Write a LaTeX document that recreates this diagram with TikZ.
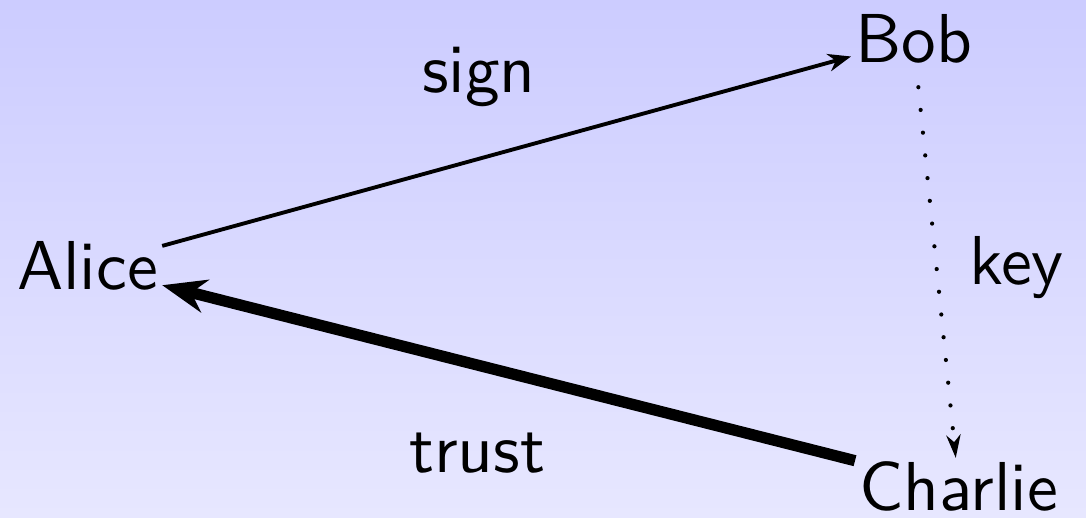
\documentclass[tikz,border=0pt]{standalone}
\usepackage{fontspec}
\usepackage{tikz}
\usetikzlibrary{arrows.meta,calc,positioning}
\newfontfamily\diagfont{lmsans10-regular.otf}
\definecolor{bgtop}{RGB}{204,204,255}
\definecolor{bgbottom}{RGB}{231,231,255}
\tikzset{
  person/.style={inner sep=1pt, anchor=base west, font=\fontsize{19.7}{24}\diagfont},
  edgelabel/.style={inner sep=1pt, anchor=base west, font=\fontsize{19.7}{24}\diagfont},
}
\begin{document}
\begin{tikzpicture}
      % background
      \shade[top color=bgtop, bottom color=bgbottom] (0,0) rectangle (10.86,5.17);
      \useasboundingbox (0,0) rectangle (10.86,5.17);
      % people
      \node[person] (alice) at (0.13,2.27) {Alice};
      \node[person] (bob) at (8.51,4.54) {Bob};
      \node[person] (charlie) at (8.55,0.06) {Charlie};
      % relations
      \draw[line width=1.1pt,-{Stealth[length=6.5pt,width=5pt,inset=2pt]}] (alice) -- (bob);
      \draw[line width=3.2pt,-{Stealth[length=12.5pt,width=9.5pt,inset=4pt]}] (charlie) -- (alice);
      \draw[line width=1.2pt,line cap=round,dash pattern=on 0pt off 6.5pt,dash phase=1pt,
            -{Stealth[length=6.5pt,width=4pt,inset=2pt]}] (bob) -- (charlie);
      % labels
      \node[edgelabel] (sign) at (4.18,4.24) {sign};
      \node[edgelabel] (trust) at (4.05,0.44) {trust};
      \node[edgelabel] (key) at (9.65,2.32) {key};
    \end{tikzpicture}
\end{document}
